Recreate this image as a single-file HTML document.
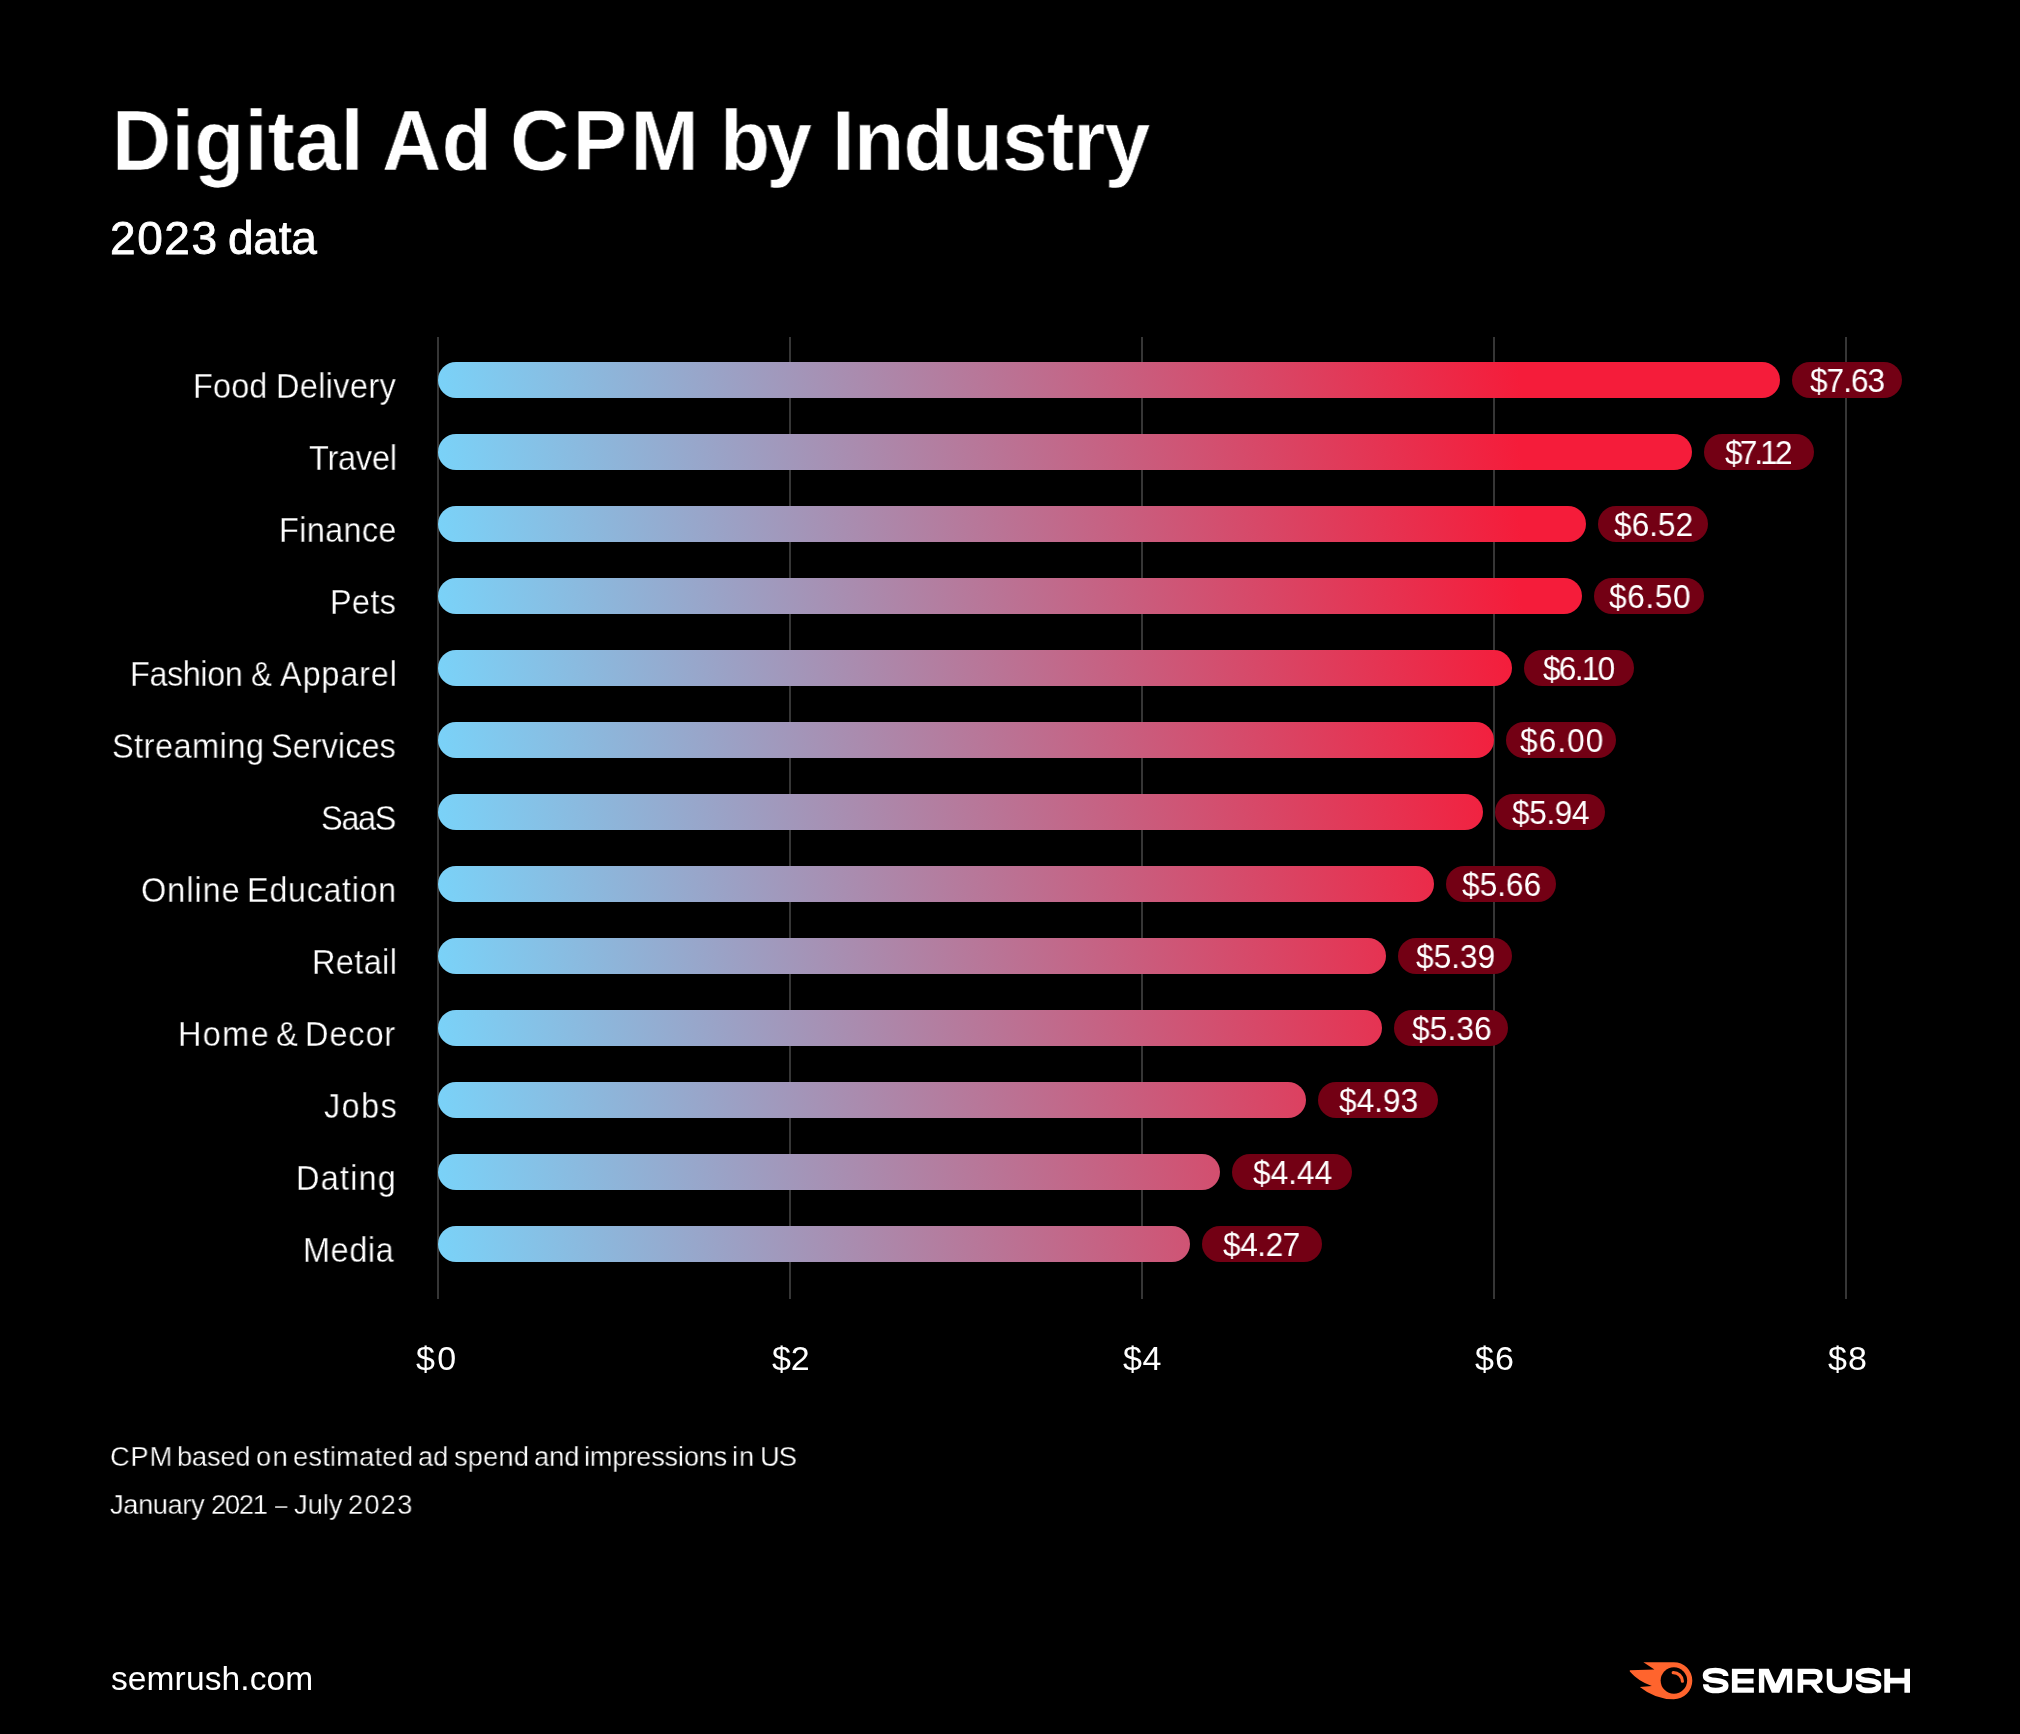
<!DOCTYPE html>
<html lang="en">
<head>
<meta charset="utf-8">
<title>Digital Ad CPM by Industry</title>
<style>
html,body{margin:0;padding:0;background:#000;}
body{width:2020px;height:1734px;position:relative;overflow:hidden;font-family:"Liberation Sans",sans-serif;color:#fff;}
.t{position:absolute;white-space:nowrap;line-height:1;margin:0;padding:0;color:#fff;will-change:transform;}
.g{position:absolute;top:337px;width:2px;height:962px;background:#363636;}
.bar{position:absolute;left:438px;height:36px;border-radius:18px;background-image:linear-gradient(80deg,#7ad2f8 3px,#f51c3a 1069px);background-size:1342px 36px;background-repeat:no-repeat;background-color:#f51c3a;}
.pill{position:absolute;height:36px;border-radius:18px;background:#730014;}
</style>
</head>
<body>
<div class="g" style="left:437px"></div>
<div class="g" style="left:789px"></div>
<div class="g" style="left:1141px"></div>
<div class="g" style="left:1493px"></div>
<div class="g" style="left:1845px"></div>
<div class="bar" style="top:362px;width:1341.9px"></div>
<div class="pill" style="top:362px;left:1791.9px;width:110px"></div>
<div class="bar" style="top:434px;width:1253.6px"></div>
<div class="pill" style="top:434px;left:1703.6px;width:110px"></div>
<div class="bar" style="top:506px;width:1147.5px"></div>
<div class="pill" style="top:506px;left:1597.5px;width:110px"></div>
<div class="bar" style="top:578px;width:1144.0px"></div>
<div class="pill" style="top:578px;left:1594.0px;width:110px"></div>
<div class="bar" style="top:650px;width:1073.6px"></div>
<div class="pill" style="top:650px;left:1523.6px;width:110px"></div>
<div class="bar" style="top:722px;width:1056.0px"></div>
<div class="pill" style="top:722px;left:1506.0px;width:110px"></div>
<div class="bar" style="top:794px;width:1045.4px"></div>
<div class="pill" style="top:794px;left:1495.4px;width:110px"></div>
<div class="bar" style="top:866px;width:996.2px"></div>
<div class="pill" style="top:866px;left:1446.2px;width:110px"></div>
<div class="bar" style="top:938px;width:948.2px"></div>
<div class="pill" style="top:938px;left:1398.2px;width:114px"></div>
<div class="bar" style="top:1010px;width:943.9px"></div>
<div class="pill" style="top:1010px;left:1393.9px;width:114px"></div>
<div class="bar" style="top:1082px;width:867.7px"></div>
<div class="pill" style="top:1082px;left:1317.7px;width:120px"></div>
<div class="bar" style="top:1154px;width:782.0px"></div>
<div class="pill" style="top:1154px;left:1232.0px;width:120px"></div>
<div class="bar" style="top:1226px;width:751.5px"></div>
<div class="pill" style="top:1226px;left:1201.5px;width:120px"></div>
<div class="t" style="left:111.99px;top:98.57px;font-size:84.5px;font-weight:bold;letter-spacing:0.187px;transform:scaleX(0.97);transform-origin:0 0;-webkit-text-stroke:0.6px #000;">Digital</div>
<div class="t" style="left:382.03px;top:98.57px;font-size:84.5px;font-weight:bold;letter-spacing:0.356px;transform:scaleX(0.97);transform-origin:0 0;-webkit-text-stroke:0.6px #000;">Ad</div>
<div class="t" style="left:510.35px;top:98.57px;font-size:84.5px;font-weight:bold;letter-spacing:3.477px;transform:scaleX(0.97);transform-origin:0 0;-webkit-text-stroke:0.6px #000;">CPM</div>
<div class="t" style="left:719.79px;top:98.57px;font-size:84.5px;font-weight:bold;letter-spacing:-3.885px;transform:scaleX(0.97);transform-origin:0 0;-webkit-text-stroke:0.6px #000;">by</div>
<div class="t" style="left:832.39px;top:98.57px;font-size:84.5px;font-weight:bold;letter-spacing:-0.774px;transform:scaleX(0.97);transform-origin:0 0;-webkit-text-stroke:0.6px #000;">Industry</div>
<div class="t" style="left:109.54px;top:214.76px;font-size:46px;font-weight:normal;letter-spacing:1.596px;-webkit-text-stroke:0.8px #fff;">2023</div>
<div class="t" style="left:228.46px;top:214.76px;font-size:46px;font-weight:normal;letter-spacing:-0.228px;-webkit-text-stroke:0.8px #fff;">data</div>
<div class="t" style="left:193.32px;top:369.05px;font-size:34.2px;font-weight:normal;letter-spacing:0.138px;transform:scaleX(0.95);transform-origin:0 0;-webkit-text-stroke:0.3px #000;">Food</div>
<div class="t" style="left:275.72px;top:369.05px;font-size:34.2px;font-weight:normal;letter-spacing:0.357px;transform:scaleX(0.95);transform-origin:0 0;-webkit-text-stroke:0.3px #000;">Delivery</div>
<div class="t" style="left:309.25px;top:441.05px;font-size:34.2px;font-weight:normal;letter-spacing:-0.216px;transform:scaleX(0.95);transform-origin:0 0;-webkit-text-stroke:0.3px #000;">Travel</div>
<div class="t" style="left:279.02px;top:513.05px;font-size:34.2px;font-weight:normal;letter-spacing:0.325px;transform:scaleX(0.95);transform-origin:0 0;-webkit-text-stroke:0.3px #000;">Finance</div>
<div class="t" style="left:330.32px;top:585.05px;font-size:34.2px;font-weight:normal;letter-spacing:0.290px;transform:scaleX(0.95);transform-origin:0 0;-webkit-text-stroke:0.3px #000;">Pets</div>
<div class="t" style="left:129.82px;top:657.05px;font-size:34.2px;font-weight:normal;letter-spacing:-0.481px;transform:scaleX(0.95);transform-origin:0 0;-webkit-text-stroke:0.3px #000;">Fashion</div>
<div class="t" style="left:250.68px;top:657.05px;font-size:34.2px;font-weight:normal;letter-spacing:0.000px;transform:scaleX(0.915777);transform-origin:0 0;-webkit-text-stroke:0.3px #000;">&amp;</div>
<div class="t" style="left:279.66px;top:657.05px;font-size:34.2px;font-weight:normal;letter-spacing:0.867px;transform:scaleX(0.95);transform-origin:0 0;-webkit-text-stroke:0.3px #000;">Apparel</div>
<div class="t" style="left:111.54px;top:729.05px;font-size:34.2px;font-weight:normal;letter-spacing:0.519px;transform:scaleX(0.95);transform-origin:0 0;-webkit-text-stroke:0.3px #000;">Streaming</div>
<div class="t" style="left:271.24px;top:729.05px;font-size:34.2px;font-weight:normal;letter-spacing:0.050px;transform:scaleX(0.95);transform-origin:0 0;-webkit-text-stroke:0.3px #000;">Services</div>
<div class="t" style="left:321.04px;top:801.05px;font-size:34.2px;font-weight:normal;letter-spacing:-1.409px;transform:scaleX(0.95);transform-origin:0 0;-webkit-text-stroke:0.3px #000;">SaaS</div>
<div class="t" style="left:140.83px;top:873.05px;font-size:34.2px;font-weight:normal;letter-spacing:1.012px;transform:scaleX(0.95);transform-origin:0 0;-webkit-text-stroke:0.3px #000;">Online</div>
<div class="t" style="left:247.22px;top:873.05px;font-size:34.2px;font-weight:normal;letter-spacing:0.624px;transform:scaleX(0.95);transform-origin:0 0;-webkit-text-stroke:0.3px #000;">Education</div>
<div class="t" style="left:311.82px;top:945.05px;font-size:34.2px;font-weight:normal;letter-spacing:0.400px;transform:scaleX(0.95);transform-origin:0 0;-webkit-text-stroke:0.3px #000;">Retail</div>
<div class="t" style="left:177.92px;top:1017.05px;font-size:34.2px;font-weight:normal;letter-spacing:1.429px;transform:scaleX(0.95);transform-origin:0 0;-webkit-text-stroke:0.3px #000;">Home</div>
<div class="t" style="left:275.74px;top:1017.05px;font-size:34.2px;font-weight:normal;letter-spacing:0.000px;transform:scaleX(0.953737);transform-origin:0 0;-webkit-text-stroke:0.3px #000;">&amp;</div>
<div class="t" style="left:305.42px;top:1017.05px;font-size:34.2px;font-weight:normal;letter-spacing:0.951px;transform:scaleX(0.95);transform-origin:0 0;-webkit-text-stroke:0.3px #000;">Decor</div>
<div class="t" style="left:323.55px;top:1089.05px;font-size:34.2px;font-weight:normal;letter-spacing:1.466px;transform:scaleX(0.95);transform-origin:0 0;-webkit-text-stroke:0.3px #000;">Jobs</div>
<div class="t" style="left:296.32px;top:1161.05px;font-size:34.2px;font-weight:normal;letter-spacing:1.249px;transform:scaleX(0.95);transform-origin:0 0;-webkit-text-stroke:0.3px #000;">Dating</div>
<div class="t" style="left:303.32px;top:1233.05px;font-size:34.2px;font-weight:normal;letter-spacing:0.612px;transform:scaleX(0.95);transform-origin:0 0;-webkit-text-stroke:0.3px #000;">Media</div>
<div class="t" style="left:416.30px;top:1341.32px;font-size:34px;font-weight:normal;letter-spacing:2.328px;">$0</div>
<div class="t" style="left:772.10px;top:1341.32px;font-size:34px;font-weight:normal;letter-spacing:-0.040px;">$2</div>
<div class="t" style="left:1122.80px;top:1341.32px;font-size:34px;font-weight:normal;letter-spacing:0.628px;">$4</div>
<div class="t" style="left:1474.50px;top:1341.32px;font-size:34px;font-weight:normal;letter-spacing:1.060px;">$6</div>
<div class="t" style="left:1828.00px;top:1341.32px;font-size:34px;font-weight:normal;letter-spacing:1.060px;">$8</div>
<div class="t" style="left:109.63px;top:1442.16px;font-size:28.4px;font-weight:normal;letter-spacing:0.869px;transform:scaleX(0.96);transform-origin:0 0;-webkit-text-stroke:0.3px #000;">CPM</div>
<div class="t" style="left:177.45px;top:1442.16px;font-size:28.4px;font-weight:normal;letter-spacing:-0.198px;transform:scaleX(0.96);transform-origin:0 0;-webkit-text-stroke:0.3px #000;">based</div>
<div class="t" style="left:256.20px;top:1442.16px;font-size:28.4px;font-weight:normal;letter-spacing:1.401px;transform:scaleX(0.96);transform-origin:0 0;-webkit-text-stroke:0.3px #000;">on</div>
<div class="t" style="left:292.70px;top:1442.16px;font-size:28.4px;font-weight:normal;letter-spacing:0.230px;transform:scaleX(0.96);transform-origin:0 0;-webkit-text-stroke:0.3px #000;">estimated</div>
<div class="t" style="left:418.00px;top:1442.16px;font-size:28.4px;font-weight:normal;letter-spacing:-0.057px;transform:scaleX(0.96);transform-origin:0 0;-webkit-text-stroke:0.3px #000;">ad</div>
<div class="t" style="left:453.73px;top:1442.16px;font-size:28.4px;font-weight:normal;letter-spacing:0.172px;transform:scaleX(0.96);transform-origin:0 0;-webkit-text-stroke:0.3px #000;">spend</div>
<div class="t" style="left:533.50px;top:1442.16px;font-size:28.4px;font-weight:normal;letter-spacing:-0.061px;transform:scaleX(0.96);transform-origin:0 0;-webkit-text-stroke:0.3px #000;">and</div>
<div class="t" style="left:584.25px;top:1442.16px;font-size:28.4px;font-weight:normal;letter-spacing:-0.220px;transform:scaleX(0.96);transform-origin:0 0;-webkit-text-stroke:0.3px #000;">impressions</div>
<div class="t" style="left:732.25px;top:1442.16px;font-size:28.4px;font-weight:normal;letter-spacing:1.045px;transform:scaleX(0.96);transform-origin:0 0;-webkit-text-stroke:0.3px #000;">in</div>
<div class="t" style="left:759.85px;top:1442.16px;font-size:28.4px;font-weight:normal;letter-spacing:-0.976px;transform:scaleX(0.96);transform-origin:0 0;-webkit-text-stroke:0.3px #000;">US</div>
<div class="t" style="left:110.03px;top:1489.96px;font-size:28.4px;font-weight:normal;letter-spacing:-0.396px;transform:scaleX(0.96);transform-origin:0 0;-webkit-text-stroke:0.3px #000;">January</div>
<div class="t" style="left:211.28px;top:1489.96px;font-size:28.4px;font-weight:normal;letter-spacing:-1.278px;transform:scaleX(0.96);transform-origin:0 0;-webkit-text-stroke:0.3px #000;">2021</div>
<div class="t" style="left:274.68px;top:1489.96px;font-size:28.4px;font-weight:normal;letter-spacing:0.000px;transform:scaleX(0.784689);transform-origin:0 0;-webkit-text-stroke:0.3px #000;">–</div>
<div class="t" style="left:293.53px;top:1489.96px;font-size:28.4px;font-weight:normal;letter-spacing:-0.024px;transform:scaleX(0.96);transform-origin:0 0;-webkit-text-stroke:0.3px #000;">July</div>
<div class="t" style="left:348.18px;top:1489.96px;font-size:28.4px;font-weight:normal;letter-spacing:1.257px;transform:scaleX(0.96);transform-origin:0 0;-webkit-text-stroke:0.3px #000;">2023</div>
<div class="t" style="left:110.78px;top:1661.54px;font-size:33.5px;font-weight:normal;letter-spacing:0.111px;">semrush.com</div>
<div class="t" style="left:1810.00px;top:364.60px;font-size:32.6px;font-weight:normal;letter-spacing:-1.044px;transform:scaleX(0.97);transform-origin:0 0;">$7.63</div>
<div class="t" style="left:1725.45px;top:436.60px;font-size:32.6px;font-weight:normal;letter-spacing:-2.977px;transform:scaleX(0.97);transform-origin:0 0;">$7.12</div>
<div class="t" style="left:1613.57px;top:508.60px;font-size:32.6px;font-weight:normal;letter-spacing:0.013px;transform:scaleX(0.97);transform-origin:0 0;">$6.52</div>
<div class="t" style="left:1608.60px;top:580.60px;font-size:32.6px;font-weight:normal;letter-spacing:0.633px;transform:scaleX(0.97);transform-origin:0 0;">$6.50</div>
<div class="t" style="left:1542.85px;top:652.60px;font-size:32.6px;font-weight:normal;letter-spacing:-1.764px;transform:scaleX(0.97);transform-origin:0 0;">$6.10</div>
<div class="t" style="left:1519.75px;top:724.60px;font-size:32.6px;font-weight:normal;letter-spacing:1.071px;transform:scaleX(0.97);transform-origin:0 0;">$6.00</div>
<div class="t" style="left:1512.09px;top:796.60px;font-size:32.6px;font-weight:normal;letter-spacing:-0.424px;transform:scaleX(0.97);transform-origin:0 0;">$5.94</div>
<div class="t" style="left:1462.21px;top:868.60px;font-size:32.6px;font-weight:normal;letter-spacing:0.013px;transform:scaleX(0.97);transform-origin:0 0;">$5.66</div>
<div class="t" style="left:1416.25px;top:940.60px;font-size:32.6px;font-weight:normal;letter-spacing:0.013px;transform:scaleX(0.97);transform-origin:0 0;">$5.39</div>
<div class="t" style="left:1411.70px;top:1012.60px;font-size:32.6px;font-weight:normal;letter-spacing:0.142px;transform:scaleX(0.97);transform-origin:0 0;">$5.36</div>
<div class="t" style="left:1338.73px;top:1084.60px;font-size:32.6px;font-weight:normal;letter-spacing:0.013px;transform:scaleX(0.97);transform-origin:0 0;">$4.93</div>
<div class="t" style="left:1252.80px;top:1156.60px;font-size:32.6px;font-weight:normal;letter-spacing:0.014px;transform:scaleX(0.97);transform-origin:0 0;">$4.44</div>
<div class="t" style="left:1223.47px;top:1228.60px;font-size:32.6px;font-weight:normal;letter-spacing:-0.451px;transform:scaleX(0.97);transform-origin:0 0;">$4.27</div>
<svg style="position:absolute;left:1620px;top:1650px;will-change:transform" width="300" height="60" viewBox="1620 1650 300 60">
<path fill="#ff642d" d="M1673.8 1662.2 A18.5 18.5 0 0 1 1673.8 1699.2 Q1655 1699.2 1639.8 1686.9 L1651.8 1685.9 Q1638.5 1681.6 1629.8 1671.5 L1629.8 1670.3 L1654.4 1669.6 L1643.4 1662.2 Z"/>
<circle cx="1673.9" cy="1680.5" r="13.25" fill="#000"/>
<path d="M1673.2 1672.6 A9 9 0 0 1 1682.4 1681.2" fill="none" stroke="#ff642d" stroke-width="3.2" stroke-linecap="round"/>
<g fill="#fff">
<path d="M1731.9 1668.8H1753.9V1674.0H1737.6V1678.5H1753.4V1683.4H1737.6V1687.5H1753.9V1692.8H1731.9Z"/>
<path d="M1758.9 1668.8H1768.8L1775.55 1683.8L1782.3 1668.8H1792.2V1692.8H1786.8V1674.4L1779.3 1692.8H1771.8L1764.3 1674.4V1692.8H1758.9Z"/>
<path fill-rule="evenodd" d="M1797.6 1668.8H1814.3C1819.6 1668.8 1822.6 1671.6 1822.6 1676.3C1822.6 1680.6 1820.3 1683.3 1816.6 1684.3L1823.5 1692.8H1817.2L1810.6 1684.8H1803.2V1692.8H1797.6ZM1803.2 1673.9V1679.6H1814C1816.3 1679.6 1817.2 1678.4 1817.2 1676.7C1817.2 1675 1816.3 1673.9 1814 1673.9Z"/>
<path d="M1826.7 1668.8H1832.2V1681.5C1832.2 1685.6 1834.6 1687.3 1839.4 1687.3C1844.2 1687.3 1846.6 1685.6 1846.6 1681.5V1668.8H1852.1V1681.8C1852.1 1689.8 1847.6 1693.5 1839.4 1693.5C1831.2 1693.5 1826.7 1689.8 1826.7 1681.8Z"/>
<path d="M1884.3 1668.8H1890.1V1677.7H1904.4V1668.8H1910V1692.8H1904.4V1683.5H1890.1V1692.8H1884.3Z"/>
</g>
<g fill="none" stroke="#fff" stroke-width="5.5">
<path d="M1725.8 1676.1C1725.8 1672.5 1721.5 1670.5 1715.5 1670.5C1709.5 1670.5 1705.5 1672.3 1705.5 1675.5C1705.5 1679.5 1710 1680 1715.6 1680.6C1721.5 1681.2 1725.8 1682 1725.8 1685.6C1725.8 1688.9 1721.5 1690.6 1715.6 1690.6C1709.5 1690.6 1705.7 1688.5 1705.7 1684.3"/>
<path transform="translate(152.8 0)" d="M1725.8 1676.1C1725.8 1672.5 1721.5 1670.5 1715.5 1670.5C1709.5 1670.5 1705.5 1672.3 1705.5 1675.5C1705.5 1679.5 1710 1680 1715.6 1680.6C1721.5 1681.2 1725.8 1682 1725.8 1685.6C1725.8 1688.9 1721.5 1690.6 1715.6 1690.6C1709.5 1690.6 1705.7 1688.5 1705.7 1684.3"/>
</g>
</svg>
</body>
</html>
